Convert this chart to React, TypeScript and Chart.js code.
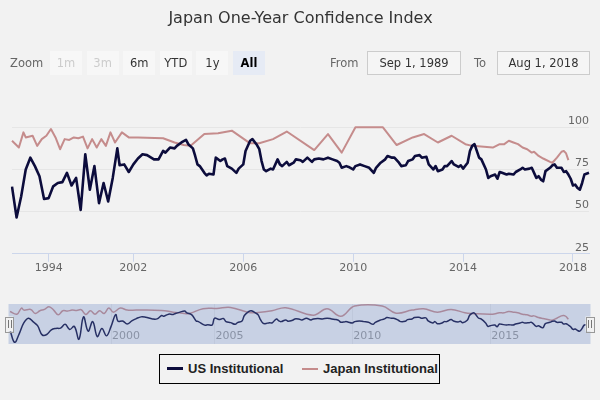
import React, { useEffect, useRef } from 'react';
import { Chart, registerables } from 'chart.js';

Chart.register(...registerables);
Chart.defaults.font.family = "'DejaVu Sans', sans-serif";

// ---- categories (ordinal x positions, union of observation dates) ----
const earlyCategories = [
  '1989-09', '1989-12', '1990-03', '1990-06', '1990-09', '1990-12', '1991-03', '1991-06',
  '1991-09', '1991-12', '1992-03', '1992-06', '1992-09', '1992-12', '1993-04', '1993-08',
  '1994-01', '1994-04', '1994-06', '1994-09', '1994-11', '1995-02', '1995-05', '1995-07',
  '1995-10', '1995-12', '1996-03', '1996-06', '1996-08', '1996-11', '1997-01', '1997-04',
  '1997-07', '1997-09', '1997-12', '1998-02', '1998-05', '1998-08', '1998-10', '1999-01',
  '1999-03', '1999-06', '1999-08', '1999-11', '2000-02', '2000-04', '2000-07', '2000-09',
  '2000-12', '2001-03', '2001-05', '2001-08', '2001-10',
];
const monthlyStart = 2002;
const monthlyEnd = '2018-08';
const categories: string[] = [...earlyCategories];
for (let y = monthlyStart; y <= 2018; y++) {
  for (let m = 1; m <= 12; m++) {
    const c = `${y}-${String(m).padStart(2, '0')}`;
    categories.push(c);
    if (c === monthlyEnd) break;
  }
}

// ---- US Institutional ----
const usDates = [
  '1989-09', '1990-03', '1990-09', '1991-03', '1991-09', '1992-03', '1992-09', '1993-04',
  '1994-01', '1994-06', '1994-11', '1995-05', '1995-10', '1996-03', '1996-08', '1997-01', '1997-07', '1997-12',
  '1998-05', '1998-10', '1999-03', '1999-08', '2000-02', '2000-07', '2000-09', '2001-03', '2001-08',
  '2002-01', '2002-03', '2002-05', '2002-07', '2002-10', '2002-12',
  '2003-02', '2003-03', '2003-05', '2003-07', '2003-08', '2003-10', '2003-12',
  '2004-01', '2004-03', '2004-04', '2004-05', '2004-06', '2004-08', '2004-09', '2004-10', '2004-12',
  '2005-01', '2005-03', '2005-04', '2005-05', '2005-06', '2005-08', '2005-10', '2005-11',
  '2006-01', '2006-02', '2006-04', '2006-05', '2006-07', '2006-08', '2006-09', '2006-10', '2006-11',
  '2007-01', '2007-02', '2007-04', '2007-05', '2007-06', '2007-08', '2007-09', '2007-11', '2007-12',
  '2008-02', '2008-03', '2008-05', '2008-07', '2008-08', '2008-10', '2008-12',
  '2009-02', '2009-04', '2009-06', '2009-07', '2009-08', '2009-10', '2009-11',
  '2010-01', '2010-02', '2010-04', '2010-06', '2010-08', '2010-10', '2010-11',
  '2011-01', '2011-03', '2011-04', '2011-06', '2011-07', '2011-09', '2011-10', '2011-12',
  '2012-01', '2012-03', '2012-04', '2012-06', '2012-07', '2012-09', '2012-10', '2012-12',
  '2013-01', '2013-02', '2013-04', '2013-05', '2013-06', '2013-08', '2013-09', '2013-11', '2013-12',
  '2014-01', '2014-03', '2014-04', '2014-05', '2014-06', '2014-07', '2014-08', '2014-09', '2014-11', '2014-12',
  '2015-01', '2015-03', '2015-04', '2015-05', '2015-06', '2015-08', '2015-09', '2015-11', '2015-12',
  '2016-02', '2016-03', '2016-04', '2016-06', '2016-07', '2016-09', '2016-10', '2016-11', '2016-12',
  '2017-01', '2017-03', '2017-04', '2017-05', '2017-06', '2017-08', '2017-09', '2017-10', '2017-11', '2017-12',
  '2018-01', '2018-02', '2018-03', '2018-04', '2018-05', '2018-06', '2018-08',
];
const usValues = [
  64.8, 46.5, 59, 75, 82, 77, 71, 57.5,
  58, 65, 67, 67.5, 73, 65.5, 70, 51, 84, 63,
  77, 55, 67, 56, 70, 87.5, 77.5, 78, 73.5,
  78, 81.5, 84, 83.5, 81, 81,
  86, 85, 88, 87.5, 89, 91, 92.5,
  90, 87.5, 83, 78, 77, 73, 71.5, 72.5, 72,
  82, 80, 81, 81.5, 77, 75.5, 73, 75.5,
  78, 86, 92, 93, 89.5, 87, 80, 75, 74,
  75.5, 75, 81, 78, 77, 79.5, 77.5, 79, 81,
  80.5, 79.5, 82, 79.5, 81, 81.5, 81,
  82, 81, 80, 79, 76, 77, 76.5,
  75, 77, 78, 77, 76, 73, 76,
  79, 81, 83, 82, 82, 79, 77, 77.5,
  80, 81, 83, 83.5, 82, 82.5, 78, 75,
  77, 74, 75, 77, 77, 80, 78, 76.5, 77.5,
  75.5, 79, 86, 89, 90, 86, 82, 81, 75, 70,
  71, 72, 69.5, 73.5, 73, 72, 72.5, 72, 73.5,
  75, 76, 75, 75.5, 76, 70, 71, 69, 68,
  74, 76, 77.5, 78, 76, 76, 73.5, 74, 72, 69.5,
  65.5, 66, 64, 63, 67, 72, 73,
];

// ---- Japan Institutional ----
const jpDates = [
  '1989-09', '1990-06', '1990-12', '1991-03', '1991-12', '1992-06', '1992-12', '1993-08',
  '1994-04', '1994-09', '1995-02', '1995-07', '1995-12', '1996-06', '1996-11', '1997-04', '1997-09',
  '1998-02', '1998-08', '1999-01', '1999-06', '1999-11', '2000-04', '2000-12', '2001-08',
  '2002-03', '2003-02', '2003-07', '2003-11', '2004-02', '2004-08', '2005-02', '2005-08',
  '2006-04', '2006-08', '2007-02', '2007-08', '2008-08', '2009-02', '2009-08', '2010-02',
  '2011-02', '2011-08', '2012-03', '2012-08', '2013-02', '2013-08', '2014-02', '2014-05',
  '2015-02', '2015-05', '2015-07', '2015-09', '2015-11', '2016-01', '2016-03', '2016-05',
  '2016-07', '2016-08', '2016-10', '2016-12', '2017-03', '2017-04', '2017-06', '2017-08',
  '2017-09', '2017-10', '2017-11',
];
const jpValues = [
  92, 88, 97, 94, 95, 89, 93, 95,
  99, 94, 87, 93, 92.5, 94, 93.5, 94.5, 87.5,
  93, 88, 93, 89, 97, 91, 97, 94,
  94, 93.5, 91, 89.5, 89, 96, 96.5, 98,
  90.5, 90.5, 93, 97.5, 86.5, 96, 85, 100,
  100, 89.5, 94, 96, 91, 95, 90, 89,
  88, 90, 90, 92, 91, 90, 88, 87,
  85, 85.5, 83, 81.5, 79.5, 79, 82, 85.5,
  86, 84.5, 80.5,
];

// ---- labels / ticks ----
const chartTitle = 'Japan One-Year Confidence Index';
const seriesNames = ['US Institutional', 'Japan Institutional'];
const seriesColors = ['#0c0c3c', '#c58c8c'];
const mainTickYears = ['1994', '2002', '2006', '2010', '2014', '2018'];
const navTickYears = ['2000', '2005', '2010', '2015'];
const yTickValues = [25, 50, 75, 100];
const zoomButtons = ['1m', '3m', '6m', 'YTD', '1y', 'All'];
const disabledButtons = ['1m', '3m'];
const selectedButton = 'All';
const fromDate = 'Sep 1, 1989';
const toDate = 'Aug 1, 2018';

const firstIndexOfYear = (y: string) => categories.findIndex((c) => c.startsWith(y));
const toPoints = (dates: string[], values: number[]) =>
  dates.map((d, k) => ({ x: d, y: values[k] }));

const BG = '#f2f2f2';
const FONT = "'DejaVu Sans', sans-serif";

export default function App() {
  const mainRef = useRef<HTMLCanvasElement | null>(null);
  const navRef = useRef<HTMLCanvasElement | null>(null);

  useEffect(() => {
    document.body.style.margin = '0';
    document.body.style.background = BG;

    const main = new Chart(mainRef.current as HTMLCanvasElement, {
      type: 'line',
      data: {
        labels: categories,
        datasets: [
          {
            label: seriesNames[0],
            data: toPoints(usDates, usValues) as any,
            borderColor: seriesColors[0],
            backgroundColor: seriesColors[0],
            borderWidth: 2.6,
            pointRadius: 0,
            borderJoinStyle: 'round',
          },
          {
            label: seriesNames[1],
            data: toPoints(jpDates, jpValues) as any,
            borderColor: seriesColors[1],
            backgroundColor: seriesColors[1],
            borderWidth: 2,
            pointRadius: 0,
            borderJoinStyle: 'round',
          },
        ],
      },
      options: {
        responsive: false,
        animation: false,
        devicePixelRatio: 1,
        layout: { padding: { left: 12, right: 11, top: 0, bottom: 15 } },
        plugins: {
          legend: { display: false },
          tooltip: { enabled: false },
          title: {
            display: true,
            text: chartTitle,
            color: '#333333',
            font: { family: FONT, size: 16, weight: 'normal' },
            padding: { top: 9, bottom: 62 },
          },
        },
        scales: {
          x: {
            type: 'category',
            offset: false,
            afterBuildTicks: (s: any) => {
              s.ticks = mainTickYears.map((y) => ({ value: firstIndexOfYear(y) }));
            },
            grid: { display: true, drawOnChartArea: false, drawTicks: true, tickLength: 8, color: '#ccd6eb' },
            border: { display: true, color: '#ccd6eb', width: 1 },
            ticks: {
              autoSkip: false,
              maxRotation: 0,
              padding: 0,
              color: '#666666',
              font: { family: FONT, size: 11 },
              callback: function (this: any, v: any) {
                return String(this.getLabelForValue(v)).slice(0, 4);
              },
            },
          },
          y: {
            position: 'right',
            min: 25,
            max: 122,
            afterBuildTicks: (s: any) => {
              s.ticks = yTickValues.map((v) => ({ value: v }));
            },
            grid: {
              drawTicks: false,
              color: (c: any) => (c.tick && c.tick.value === 25 ? 'rgba(0,0,0,0)' : '#e6e6e6'),
            },
            border: { display: false },
            ticks: {
              mirror: true,
              padding: 0,
              labelOffset: -6,
              color: '#666666',
              font: { family: FONT, size: 11 },
            },
          },
        },
      },
    });

    const navPlugin = {
      id: 'navMask',
      afterDatasetsDraw(chart: any) {
        const { ctx, chartArea: a } = chart;
        ctx.save();
        ctx.fillStyle = 'rgba(102,133,194,0.3)';
        ctx.fillRect(a.left - 1.5, a.top, a.right - a.left + 3, a.bottom - a.top);
        ctx.restore();
      },
      afterDraw(chart: any) {
        const { ctx, chartArea: a } = chart;
        const cy = (a.top + a.bottom) / 2;
        [a.left - 1, a.right + 0.5].forEach((x: number) => {
          ctx.save();
          ctx.fillStyle = '#f2f2f2';
          ctx.strokeStyle = '#999999';
          ctx.lineWidth = 1;
          ctx.fillRect(x - 4, cy - 7.5, 8, 15);
          ctx.strokeRect(Math.round(x - 4) + 0.5, Math.round(cy - 7.5) + 0.5, 8, 15);
          ctx.strokeStyle = '#777777';
          ctx.beginPath();
          ctx.moveTo(Math.round(x - 1.5) + 0.5, cy - 4);
          ctx.lineTo(Math.round(x - 1.5) + 0.5, cy + 4);
          ctx.moveTo(Math.round(x + 1.5) + 0.5, cy - 4);
          ctx.lineTo(Math.round(x + 1.5) + 0.5, cy + 4);
          ctx.stroke();
          ctx.restore();
        });
      },
    };

    const nav = new Chart(navRef.current as HTMLCanvasElement, {
      type: 'line',
      data: {
        labels: categories,
        datasets: [
          {
            label: seriesNames[0],
            data: toPoints(usDates, usValues) as any,
            borderColor: seriesColors[0],
            borderWidth: 1.5,
            pointRadius: 0,
            tension: 0.4,
          },
          {
            label: seriesNames[1],
            data: toPoints(jpDates, jpValues) as any,
            borderColor: seriesColors[1],
            borderWidth: 1.5,
            pointRadius: 0,
            tension: 0.4,
          },
        ],
      },
      options: {
        responsive: false,
        animation: false,
        devicePixelRatio: 1,
        layout: { padding: { left: 10, right: 11, top: 14, bottom: 8 } },
        plugins: { legend: { display: false }, tooltip: { enabled: false }, title: { display: false } },
        scales: {
          x: {
            type: 'category',
            offset: false,
            afterBuildTicks: (s: any) => {
              s.ticks = navTickYears.map((y) => ({ value: firstIndexOfYear(y) }));
            },
            grid: { display: true, drawTicks: false, color: '#e6e6e6' },
            border: { display: false },
            ticks: {
              autoSkip: false,
              maxRotation: 0,
              align: 'start',
              labelOffset: 1,
              padding: -14,
              color: '#999999',
              font: { family: FONT, size: 11 },
              callback: function (this: any, v: any) {
                return String(this.getLabelForValue(v)).slice(0, 4);
              },
            },
          },
          y: { display: false, min: 44, max: 103 },
        },
      },
      plugins: [navPlugin],
    });

    return () => {
      main.destroy();
      nav.destroy();
    };
  }, []);

  const btnLeft = (i: number) => 50 + i * 36.6;

  return (
    <div
      style={{
        position: 'fixed',
        left: 0,
        top: 0,
        width: 600,
        height: 400,
        background: BG,
        fontFamily: FONT,
        overflow: 'hidden',
      }}
    >
      <canvas ref={mainRef} width={600} height={290} style={{ position: 'absolute', left: 0, top: 0 }} />
      <canvas ref={navRef} width={600} height={62} style={{ position: 'absolute', left: 0, top: 290 }} />

      {/* range selector */}
      <div style={{ position: 'absolute', left: 10, top: 51, height: 24, lineHeight: '24px', fontSize: 11.5, color: '#666' }}>
        Zoom
      </div>
      {zoomButtons.map((b, i) => {
        const disabled = disabledButtons.includes(b);
        const selected = b === selectedButton;
        return (
          <div
            key={b}
            style={{
              position: 'absolute',
              left: btnLeft(i),
              top: 51,
              width: 32,
              height: 24,
              lineHeight: '24px',
              textAlign: 'center',
              fontSize: 11.5,
              background: selected ? '#e6ebf5' : '#f7f7f7',
              color: disabled ? '#cccccc' : selected ? '#000' : '#333',
              fontWeight: selected ? 'bold' : 'normal',
            }}
          >
            {b}
          </div>
        );
      })}
      <div style={{ position: 'absolute', left: 330, top: 51, height: 24, lineHeight: '24px', fontSize: 11.5, color: '#666' }}>
        From
      </div>
      <div
        style={{
          position: 'absolute', left: 367, top: 51, width: 94, height: 24, boxSizing: 'border-box',
          border: '1px solid #cccccc', lineHeight: '22px', textAlign: 'center', fontSize: 11.5, color: '#333',
          background: '#f5f5f5',
        }}
      >
        {fromDate}
      </div>
      <div style={{ position: 'absolute', left: 474, top: 51, height: 24, lineHeight: '24px', fontSize: 11.5, color: '#666' }}>
        To
      </div>
      <div
        style={{
          position: 'absolute', left: 497, top: 51, width: 93, height: 24, boxSizing: 'border-box',
          border: '1px solid #cccccc', lineHeight: '22px', textAlign: 'center', fontSize: 11.5, color: '#333',
          background: '#f5f5f5',
        }}
      >
        {toDate}
      </div>

      {/* legend */}
      <div
        style={{
          position: 'absolute', left: 159, top: 354, width: 281, height: 30, boxSizing: 'border-box',
          border: '1.5px solid #000', background: BG,
        }}
      >
        {seriesNames.map((n, i) => (
          <div
            key={n}
            style={{
              position: 'absolute', left: i === 0 ? 7 : 142, top: 0, height: 27, display: 'flex', alignItems: 'center',
              fontFamily: "'Liberation Sans', Arial, sans-serif", fontWeight: 'bold', fontSize: 13, color: '#222',
              whiteSpace: 'nowrap',
            }}
          >
            <span style={{ display: 'inline-block', width: 16, height: i === 0 ? 3 : 2, background: seriesColors[i], marginRight: 5 }} />
            {n}
          </div>
        ))}
      </div>
    </div>
  );
}
